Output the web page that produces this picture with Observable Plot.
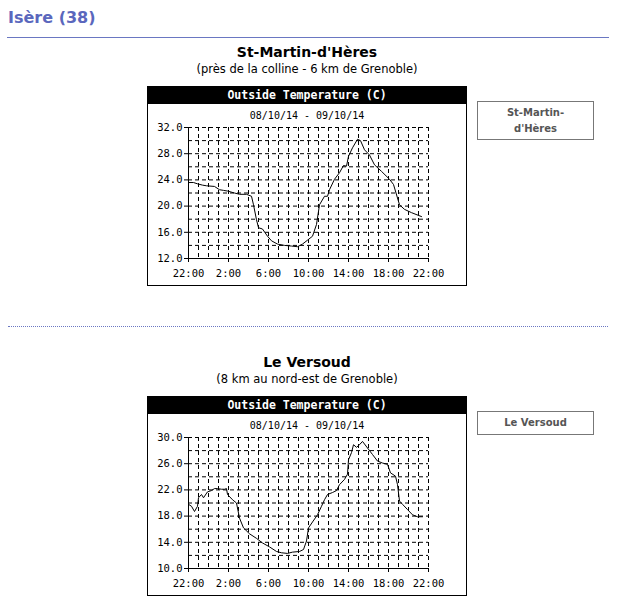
<!DOCTYPE html>
<html><head><meta charset="utf-8">
<script src="https://cdn.jsdelivr.net/npm/d3@7"></script>
<script src="https://cdn.jsdelivr.net/npm/@observablehq/plot@0.6"></script>
<style>
body{margin:0;background:#fff;width:622px;height:607px;position:relative;overflow:hidden;font-family:"DejaVu Sans",Verdana,sans-serif;color:#000}
.a{position:absolute}
.h1{left:8px;top:7px;font-size:16px;font-weight:bold;color:#5a67bd;line-height:22px;white-space:nowrap}
.rule{left:7px;top:37px;width:602px;height:1px;background:#6a77c2}
.sep{left:8px;top:326px;width:600px;height:0;border-top:1px dotted #6a77c2}
.title{left:0;width:614px;text-align:center;font-size:14px;font-weight:bold;line-height:16px}
.sub{left:0;width:614px;text-align:center;font-size:11.5px;line-height:14px}
.box{left:147px;width:318px;height:198px;border:1px solid #000;background:#fff}
.bar{position:absolute;left:0;top:0;width:318px;height:17px;background:#000;color:#fff;font-family:"DejaVu Sans Mono",monospace;font-weight:bold;font-size:11.5px;line-height:17px;text-align:center;white-space:pre}
.date{position:absolute;left:0;top:23px;width:318px;text-align:center;font-family:"DejaVu Sans Mono",monospace;font-size:10px;line-height:12px;white-space:pre}
.plot{position:absolute;left:0;top:18px}
.btn{left:477px;width:115px;border:1px solid #777;text-align:center;font-size:10px;font-weight:bold;color:#555;line-height:16px;display:flex;align-items:center;justify-content:center}
</style></head><body>
<script>
// ---- data ----
const xTickLabels = ["22:00","2:00","6:00","10:00","14:00","18:00","22:00"];
const dateRange = "08/10/14 - 09/10/14";
const chartTitle = "Outside Temperature (C)";

// hours since 22:00 on 08/10/14
const smhHours = [0,0.5,0.9,1.4,1.8,2.6,3.1,3.5,3.9,4.6,5.1,5.8,6.3,6.5,6.8,7.0,7.4,7.9,8.3,8.9,9.6,10.3,10.9,11.4,11.9,12.4,12.8,13.1,13.6,13.9,14.1,14.6,15.1,15.5,15.8,16.0,16.4,16.9,17.2,17.6,18.1,18.6,19.3,20.1,20.5,21.1,21.6,22.3,23.3];
const smhTemps = [23.6,23.6,23.4,23.2,23.1,23.0,22.5,22.4,22.3,22.0,21.8,21.8,21.5,20.2,17.9,16.7,16.5,15.4,14.7,14.2,14.0,13.9,13.8,14.2,14.8,15.4,17.2,20.2,21.5,21.5,22.5,24.1,25.1,26.2,26.1,27.6,28.9,30.2,30.0,28.6,27.8,26.3,25.3,24.1,23.3,20.2,19.5,19.0,18.4];

const versoudHours = [0,0.3,0.6,0.9,1.0,1.3,1.5,1.9,2.3,2.6,2.9,3.3,3.6,3.8,3.9,4.4,4.8,5.1,5.5,6.1,6.8,7.4,8.1,8.8,9.3,9.9,10.4,11.1,11.5,11.8,12.0,12.4,12.9,13.3,13.6,13.9,14.4,14.8,15.1,15.6,15.9,16.0,16.3,16.5,16.8,17.1,17.4,17.9,18.4,18.9,19.4,19.9,20.2,20.7,20.9,21.1,21.4,21.9,22.4,22.9,23.4];
const versoudTemps = [19.8,19.5,18.7,19.5,20.8,21.3,20.8,21.7,21.9,22.2,22.2,22.1,22.1,22.2,21.3,20.5,20.0,17.7,16.2,15.3,14.6,13.9,13.3,12.6,12.4,12.3,12.5,12.6,12.9,14.2,16.2,17.1,18.2,19.5,20.5,21.3,21.6,21.9,22.8,23.6,24.4,26.6,27.7,28.9,28.5,28.9,29.4,28.4,27.4,26.4,26.1,25.9,24.6,24.1,22.8,20.3,19.8,19.0,18.2,17.9,17.9];

const stationNames = ["St-Martin-d'Hères", "Le Versoud"];
const stationSubs = ["(près de la colline - 6 km de Grenoble)", "(8 km au nord-est de Grenoble)"];
const stationButtons = ["St-Martin-<br>d'Hères", "Le Versoud"];
const yDomains = [[12, 32], [10, 30]];

// ---- page ----
function el(cls, html, style) {
  const d = document.createElement("div");
  d.className = "a " + cls;
  if (html != null) d.innerHTML = html;
  Object.assign(d.style, style || {});
  document.body.appendChild(d);
  return d;
}

function makePlot(hours, temps, yDom) {
  const data = hours.map((h, i) => ({h, t: temps[i]}));
  const [y0, y1] = yDom;
  const gridY = d3.range(y0 + 2, y1 + 0.1, 2);
  const gridX = d3.range(1, 25, 1);
  const labelY = d3.range(y0, y1 + 0.1, 4);
  const labelX = d3.range(0, 25, 4);
  return Plot.plot({
    width: 318, height: 179,
    marginLeft: 40, marginRight: 38, marginTop: 22, marginBottom: 26,
    style: {fontFamily: "DejaVu Sans Mono, monospace", fontSize: "10px", color: "#000", background: "transparent", overflow: "visible"},
    x: {domain: [0, 24], axis: null},
    y: {domain: yDom, axis: null},
    marks: [
      Plot.ruleX(gridX, {stroke: "#000", strokeWidth: 1, strokeDasharray: "4,3"}),
      Plot.ruleY(gridY, {stroke: "#000", strokeWidth: 1, strokeDasharray: "4,3"}),
      Plot.axisX({ticks: labelX, label: null, tickSize: 4, tickPadding: 7, tickFormat: (d) => xTickLabels[d / 4], stroke: "#000", strokeOpacity: 1, fill: "#000", fontSize: 10.5}),
      Plot.axisY({ticks: labelY, label: null, tickSize: 4, tickPadding: 2, tickFormat: d3.format(".1f"), stroke: "#000", strokeOpacity: 1, fill: "#000", fontSize: 10.5}),
      Plot.ruleX([0], {stroke: "#000"}),
      Plot.ruleY([y0], {stroke: "#000"}),
      Plot.line(data, {x: "h", y: "t", stroke: "#000", strokeWidth: 1})
    ]
  });
}

el("h1", "Isère (38)");
el("rule");
el("sep");

const series = [[smhHours, smhTemps], [versoudHours, versoudTemps]];
const offsets = [0, 310];
const btnH = [37, 22];
stationNames.forEach((name, i) => {
  const o = offsets[i];
  el("title", name, {top: (44 + o) + "px"});
  el("sub", stationSubs[i], {top: (62 + o) + "px"});
  const box = el("box", null, {top: (86 + o) + "px"});
  const bar = document.createElement("div"); bar.className = "bar"; bar.textContent = chartTitle; box.appendChild(bar);
  const date = document.createElement("div"); date.className = "date"; date.textContent = dateRange; box.appendChild(date);
  const p = document.createElement("div"); p.className = "plot";
  p.appendChild(makePlot(series[i][0], series[i][1], yDomains[i]));
  box.appendChild(p);
  el("btn", stationButtons[i], {top: (101 + o) + "px", height: btnH[i] + "px"});
});
</script>
</body></html>
